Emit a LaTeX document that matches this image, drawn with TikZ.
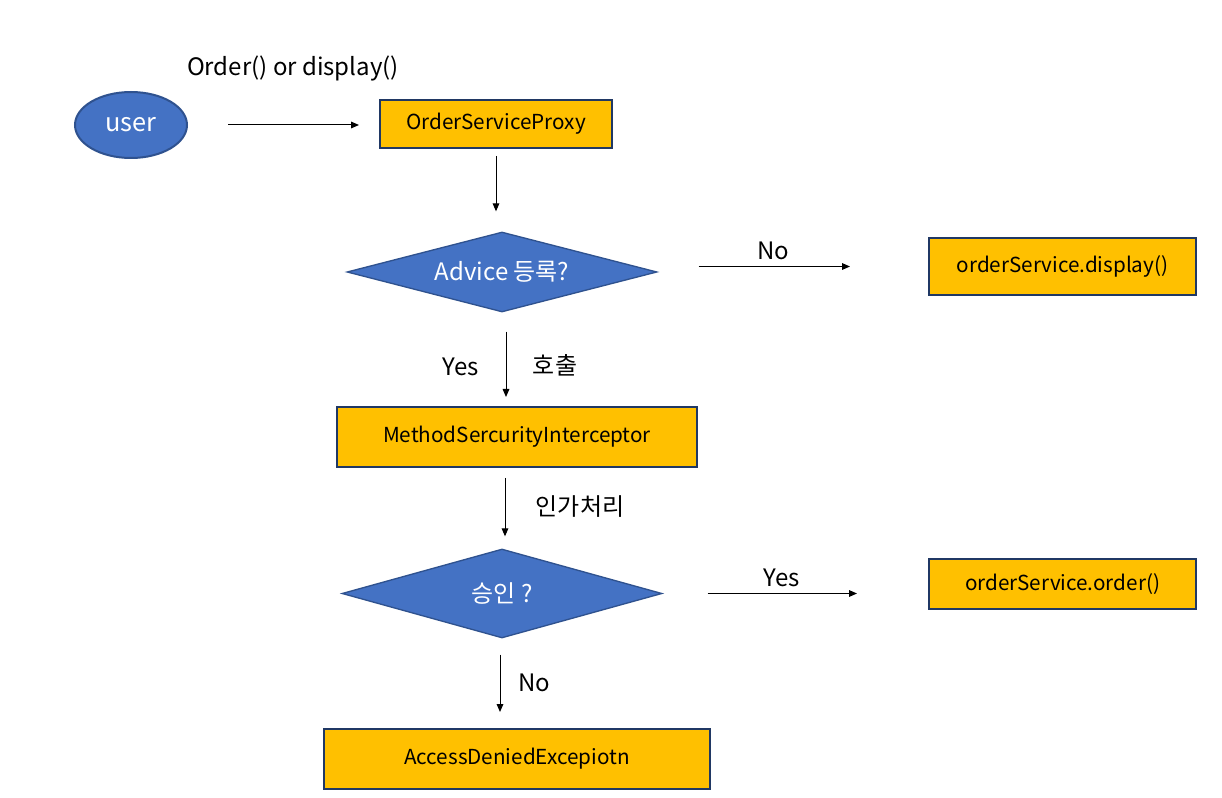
\documentclass[tikz,border=0pt]{standalone}
\usepackage{fontspec}
\setmainfont{Noto Sans CJK KR}
\usetikzlibrary{shapes.geometric,arrows.meta,calc}
\definecolor{bluefill}{HTML}{4472C4}
\definecolor{blueedge}{HTML}{2F528F}
\definecolor{yellowfill}{HTML}{FFC000}
\definecolor{boxedge}{HTML}{203864}
\tikzset{
  box/.style={draw=boxedge, line width=1.5pt, fill=yellowfill, inner sep=0pt, font=\fontsize{15.5}{17}\selectfont},
  dec/.style={diamond, draw=blueedge, line width=1pt, fill=bluefill, inner sep=0pt, text=white, font=\fontsize{18}{20}\selectfont},
  conn/.style={draw=black, line width=0.75pt, -{Triangle[length=6pt,width=5pt]}},
  lbl/.style={inner sep=0pt, font=\fontsize{18}{20}\selectfont}
}
\begin{document}
\begin{tikzpicture}[x=0.75pt,y=-0.75pt]
\useasboundingbox (0,0) rectangle (1222,798);
\node[ellipse, draw=blueedge, line width=1.5pt, fill=bluefill, text=white, minimum width=84pt, minimum height=49.5pt, inner sep=0pt, font=\fontsize{19}{21}\selectfont] (user) at (131,125) {user};
\node[box, minimum width=174pt, minimum height=36pt] (proxy) at (496,124) {OrderServiceProxy};
\node[dec, minimum width=232.5pt, minimum height=60pt, aspect=3.875] (d1) at (502,272) {Advice 등록?};
\node[box, minimum width=200.25pt, minimum height=42.75pt] (display) at (1062.5,266.5) {orderService.display()};
\node[box, minimum width=270pt, minimum height=45pt] (msi) at (517,437) {MethodSercurityInterceptor};
\node[dec, minimum width=240pt, minimum height=66.75pt, aspect=3.6] (d2) at (502,593.5) {승인 ?};
\node[box, minimum width=200.25pt, minimum height=37.5pt] (order) at (1062.5,584) {orderService.order()};
\node[box, minimum width=289.5pt, minimum height=45pt] (ade) at (517,759) {AccessDeniedExcepiotn};

\node[lbl] (l0) at (293,68) {Order() or display()};
\node[lbl] (l1) at (773,251) {No};
\node[lbl] (l2) at (461,367) {Yes};
\node[lbl] (l3) at (555,365) {호출};
\node[lbl] (l4) at (580,507) {인가처리};
\node[lbl] (l5) at (782,578) {Yes};
\node[lbl] (l6) at (534,683) {No};

\draw[conn, shorten <=30pt, shorten >=15pt] (user.east) -- (user.east -| proxy.west);
\draw[conn, shorten <=5.25pt, shorten >=15pt] (proxy.south) -- (proxy.south |- d1.north);
\draw[conn, shorten <=30.75pt, shorten >=58.5pt] (d1.east |- display.west) -- (display.west);
\draw[conn, shorten <=14.25pt, shorten >=6.75pt] ([xshift=3pt]d1.south) -- ([xshift=3pt]d1.south |- msi.north);
\draw[conn, shorten <=7.5pt, shorten >=9pt] ([xshift=2.25pt]d2.north |- msi.south) -- ([xshift=2.25pt]d2.north);
\draw[conn, shorten <=33.75pt, shorten >=53.25pt] (d2.east) -- (d2.east -| order.west);
\draw[conn, shorten <=12pt, shorten >=12pt] ([xshift=-1.5pt]d2.south) -- ([xshift=-1.5pt]d2.south |- ade.north);
\end{tikzpicture}
\end{document}
